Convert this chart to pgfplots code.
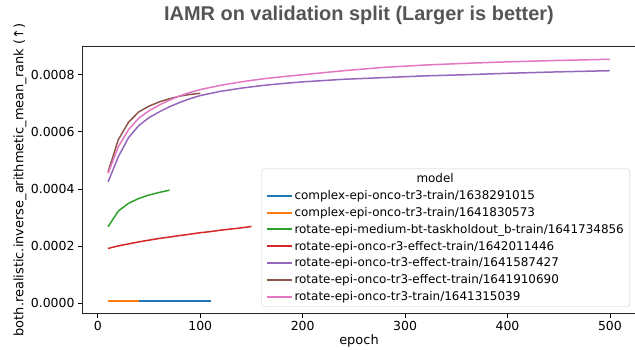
\documentclass[border=0pt]{standalone}
\usepackage{pgfplots}
\pgfplotsset{compat=1.18}
\usepackage{fontspec}
\setmainfont{DejaVu Sans}
\newfontfamily\titlefont{Liberation Sans}
\usetikzlibrary{calc}
\definecolor{c0}{HTML}{1F77B4}
\definecolor{c1}{HTML}{FF7F0E}
\definecolor{c2}{HTML}{2CA02C}
\definecolor{c3}{HTML}{D62728}
\definecolor{c4}{HTML}{9467BD}
\definecolor{c5}{HTML}{8C564B}
\definecolor{c6}{HTML}{E377C2}
\definecolor{titlegray}{HTML}{555555}
\begin{document}
\begin{tikzpicture}
\begin{axis}[
  scale only axis,
  width=552bp, height=266bp,
  xmin=-14.5, xmax=524.5,
  ymin=-0.0000339, ymax=0.000897,
  xtick={0,100,200,300,400,500},
  ytick={0,0.0002,0.0004,0.0006,0.0008},
  scaled y ticks=false,
  yticklabel style={/pgf/number format/.cd, fixed, fixed zerofill, precision=4, assume math mode=true},
  xticklabel style={/pgf/number format/assume math mode=true},
  tick label style={font=\fontsize{12.5}{14}\selectfont},
  tick align=outside,
  xtick pos=left, ytick pos=left,
  major tick length=5bp,
  tick style={black, line width=0.8bp},
  axis line style={black!85, line width=1bp},
  xlabel={epoch},
  ylabel={both.realistic.inverse\_arithmetic\_mean\_rank (↑)},
  label style={font=\fontsize{13}{15}\selectfont},
  xlabel style={at={(axis description cs:0.5,0)}, anchor=center, yshift=-28bp},
  ylabel style={at={(axis description cs:0,0.5)}, anchor=center, yshift=63bp},
  title={IAMR on validation split (Larger is better)},
  title style={at={(axis description cs:0.5,1)}, anchor=base, yshift=21bp,
    font=\titlefont\bfseries\fontsize{20}{24}\selectfont, text=titlegray},
  every axis plot/.append style={line width=1.5bp},
  legend cell align=left,
  legend style={at={(axis description cs:1,0)}, anchor=south east, xshift=-5bp, yshift=6bp,
    font=\fontsize{12}{14}\selectfont, draw=black!20, rounded corners=3bp,
    fill=white, fill opacity=0.8, text opacity=1, draw opacity=1, row sep=2.2bp,
    inner xsep=4bp, inner ysep=3bp},
  legend image code/.code={\draw[#1, line width=2bp, opacity=1, rounded corners=0pt] (0bp,0bp) -- (25bp,0bp);},
]
\addlegendimage{empty legend}
\addlegendentry{\makebox[0pt][l]{\hspace{122bp}model}}
\addplot[c0] coordinates {(10,0.0000085)(20,0.0000085)(30,0.0000085)(40,0.0000085)(50,0.0000085)(60,0.0000085)(70,0.0000085)(80,0.0000085)(90,0.0000085)(100,0.0000085)(110,0.0000085)};
\addlegendentry{complex-epi-onco-tr3-train/1638291015}
\addplot[c1] coordinates {(10,0.0000085)(20,0.0000085)(30,0.0000085)(40,0.0000085)};
\addlegendentry{complex-epi-onco-tr3-train/1641830573}
\addplot[c2] coordinates {(10,0.000268)(20,0.000323)(30,0.00035)(40,0.000367)(50,0.000379)(60,0.000388)(70,0.000396)};
\addlegendentry{rotate-epi-medium-bt-taskholdout\_b-train/1641734856}
\addplot[c3] coordinates {(10,0.000192)(20,0.000201)(30,0.000208)(40,0.000215)(50,0.000221)(60,0.000227)(70,0.000232)(80,0.000237)(90,0.000242)(100,0.000247)(110,0.000251)(120,0.000256)(130,0.00026)(140,0.000264)(150,0.000269)};
\addlegendentry{rotate-epi-onco-r3-effect-train/1642011446}
\addplot[c4] coordinates {(10,0.000425)(20,0.000513)(30,0.00058)(40,0.000622)(50,0.00065)(60,0.00067)(70,0.000688)(80,0.000703)(90,0.000716)(100,0.000727)(120,0.000742)(140,0.000753)(160,0.000762)(180,0.000769)(200,0.000775)(240,0.000784)(280,0.00079)(320,0.000796)(360,0.0008)(400,0.000805)(450,0.00081)(500,0.000814)};
\addlegendentry{rotate-epi-onco-tr3-effect-train/1641587427}
\addplot[c5] coordinates {(10,0.00046)(20,0.000573)(30,0.000634)(40,0.00067)(50,0.00069)(60,0.000705)(70,0.000716)(80,0.000725)(90,0.000731)(100,0.000735)};
\addlegendentry{rotate-epi-onco-tr3-effect-train/1641910690}
\addplot[c6] coordinates {(10,0.000455)(20,0.000548)(30,0.000608)(40,0.000648)(50,0.000674)(60,0.000694)(70,0.000711)(80,0.000726)(90,0.000738)(100,0.000748)(120,0.000763)(140,0.000775)(160,0.000785)(180,0.000793)(200,0.0008)(240,0.000814)(280,0.000826)(320,0.000834)(360,0.00084)(400,0.000845)(450,0.00085)(500,0.000854)};
\addlegendentry{rotate-epi-onco-tr3-train/1641315039}
\end{axis}
\pgfresetboundingbox
\path ($(current axis.south west)+(-83bp,-37bp)$) rectangle ($(current axis.north east)+(0bp,47bp)$);
\end{tikzpicture}
\end{document}
